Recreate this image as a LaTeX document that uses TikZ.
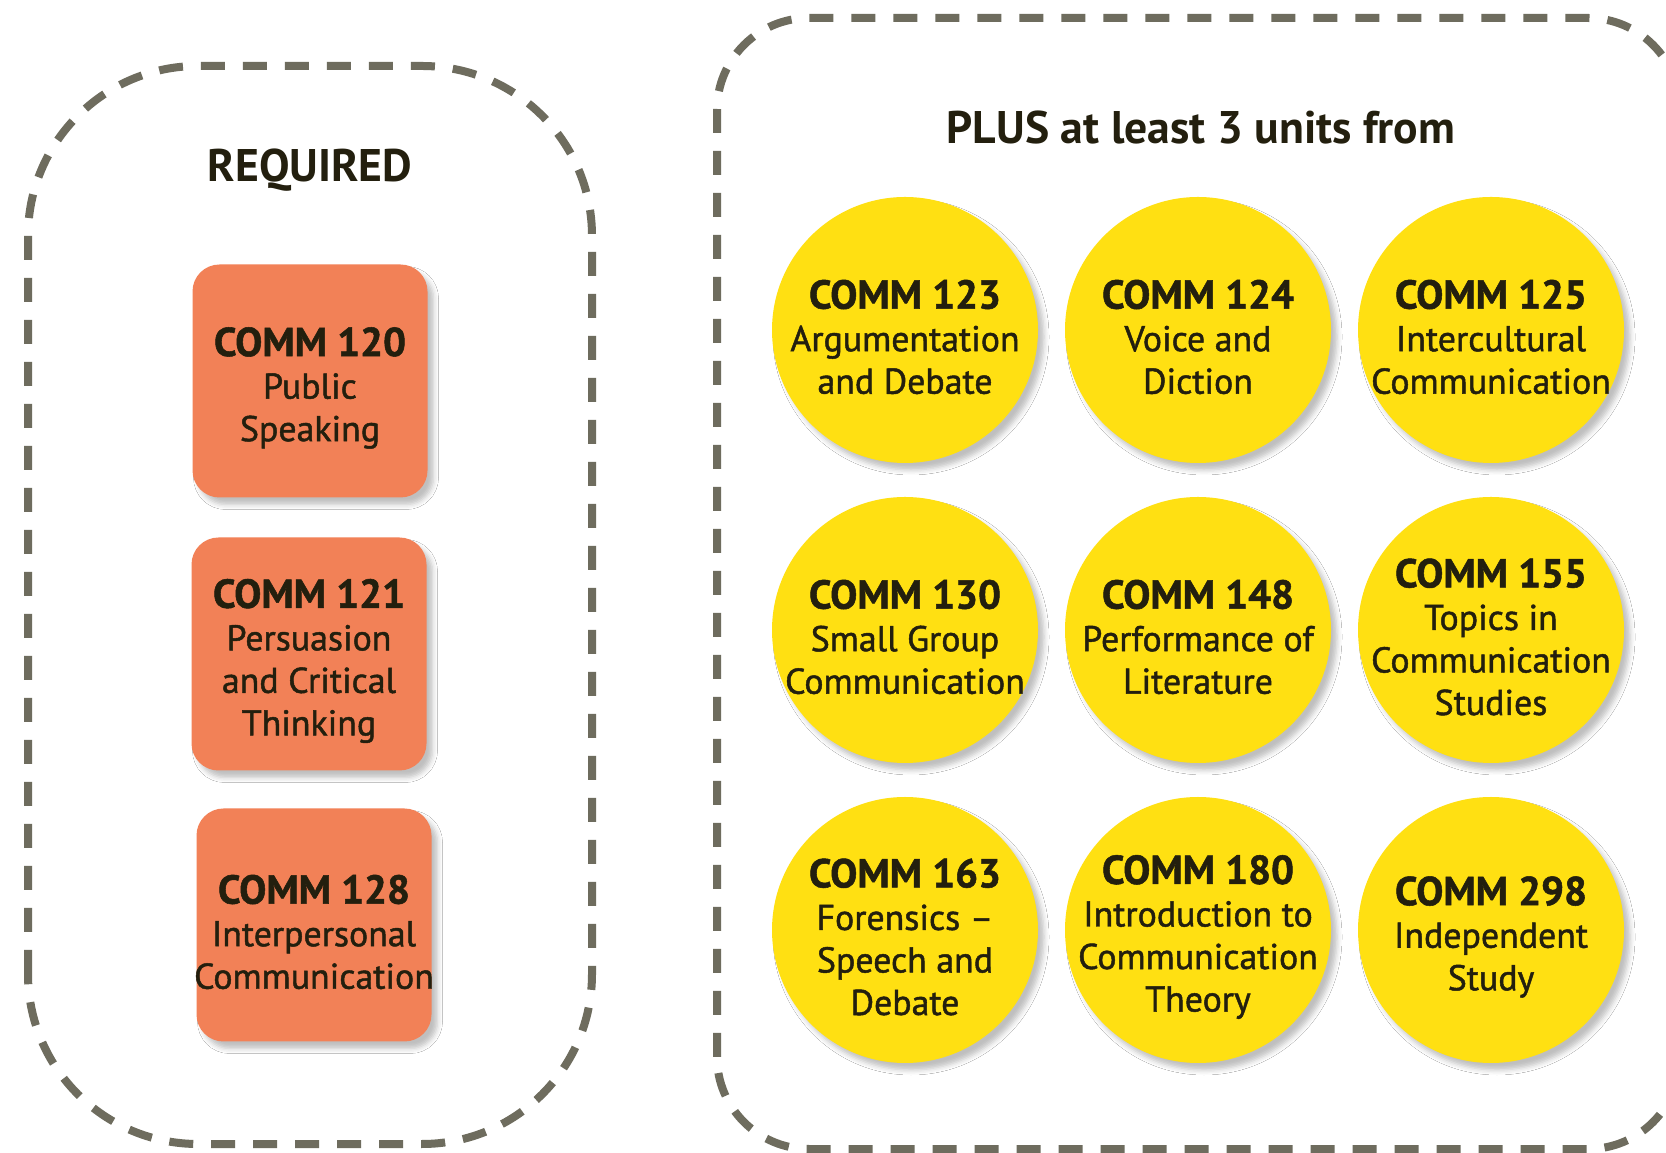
\documentclass[tikz,border=0pt]{standalone}
\usepackage{fontspec}
\setmainfont{PT Sans}
\newfontfamily\descfont{PT Sans}[FakeBold=1.3, Ligatures=TeX]
\usetikzlibrary{shadows.blur}
\definecolor{dashgrey}{RGB}{110,108,94}
\definecolor{coreorange}{RGB}{242,129,87}
\definecolor{optyellow}{RGB}{255,224,18}
\definecolor{inkbrown}{RGB}{35,31,14}
\newcommand{\course}[2]{{\fontsize{11.5}{14}\selectfont\bfseries #1}\\#2}
\tikzset{>=latex}

\begin{document}
\begin{tikzpicture}[
    every node/.style={text=inkbrown},
    groupline/.style={dashgrey, line width=0.08cm, dash pattern=on 0.24cm off 0.18cm},
    softshadow/.style={blur shadow={shadow xshift=0.06cm, shadow yshift=-0.07cm, shadow blur radius=0.05cm, shadow opacity=25}},
    coursetext/.style={align=center, yshift=-0.07cm, text=inkbrown, font=\descfont\fontsize{10.2}{12.1}\selectfont},
    corebox/.style={rectangle, rounded corners=0.27cm, fill=coreorange, minimum width=2.35cm, minimum height=2.33cm, softshadow, label={[coursetext]center:#1}},
    optcircle/.style={circle, fill=optyellow, minimum size=2.66cm, inner sep=0pt, softshadow, label={[coursetext]center:#1}}
  ]
    \useasboundingbox (0,0) rectangle (16.66,11.52);
    \fill[white] (0,0) rectangle (16.66,11.52);
    % the two groups
    \draw[groupline, rounded corners=1.7cm] (0.28,0.08) rectangle (5.92,10.86);
    \draw[groupline, rounded corners=0.92cm] (7.17,0.03) rectangle (16.80,11.34);
    \node[anchor=base, font=\fontsize{13}{15}\selectfont\bfseries] (req) at (3.10,9.70) {REQUIRED};
    \node[anchor=base, font=\fontsize{13}{15}\selectfont\bfseries] (plus) at (12.01,10.08) {PLUS at least 3 units from};
    % required courses
    \node[corebox={\course{COMM 120}{Public\\Speaking}}] (c120) at (3.10,7.71) {};
    \node[corebox={\course{COMM 121}{Persuasion\\and Critical\\Thinking}}] (c121) at (3.09,4.98) {};
    \node[corebox={\course{COMM 128}{Interpersonal\\Communication}}] (c128) at (3.14,2.27) {};
    % electives
    \node[optcircle={\course{COMM 123}{Argumentation\\and Debate}}] (c123) at (9.05,8.22) {};
    \node[optcircle={\course{COMM 124}{Voice and\\Diction}}] (c124) at (11.98,8.22) {};
    \node[optcircle={\course{COMM 125}{Intercultural\\Communication}}] (c125) at (14.91,8.22) {};
    \node[optcircle={\course{COMM 130}{Small Group\\Communication}}] (c130) at (9.05,5.22) {};
    \node[optcircle={\course{COMM 148}{Performance of\\Literature}}] (c148) at (11.98,5.22) {};
    \node[optcircle={\course{COMM 155}{Topics in\\Communication\\Studies}}] (c155) at (14.91,5.22) {};
    \node[optcircle={\course{COMM 163}{Forensics --\\Speech and\\Debate}}] (c163) at (9.05,2.22) {};
    \node[optcircle={\course{COMM 180}{Introduction to\\Communication\\Theory}}] (c180) at (11.98,2.22) {};
    \node[optcircle={\course{COMM 298}{Independent\\Study}}] (c298) at (14.91,2.22) {};
\end{tikzpicture}
\end{document}
